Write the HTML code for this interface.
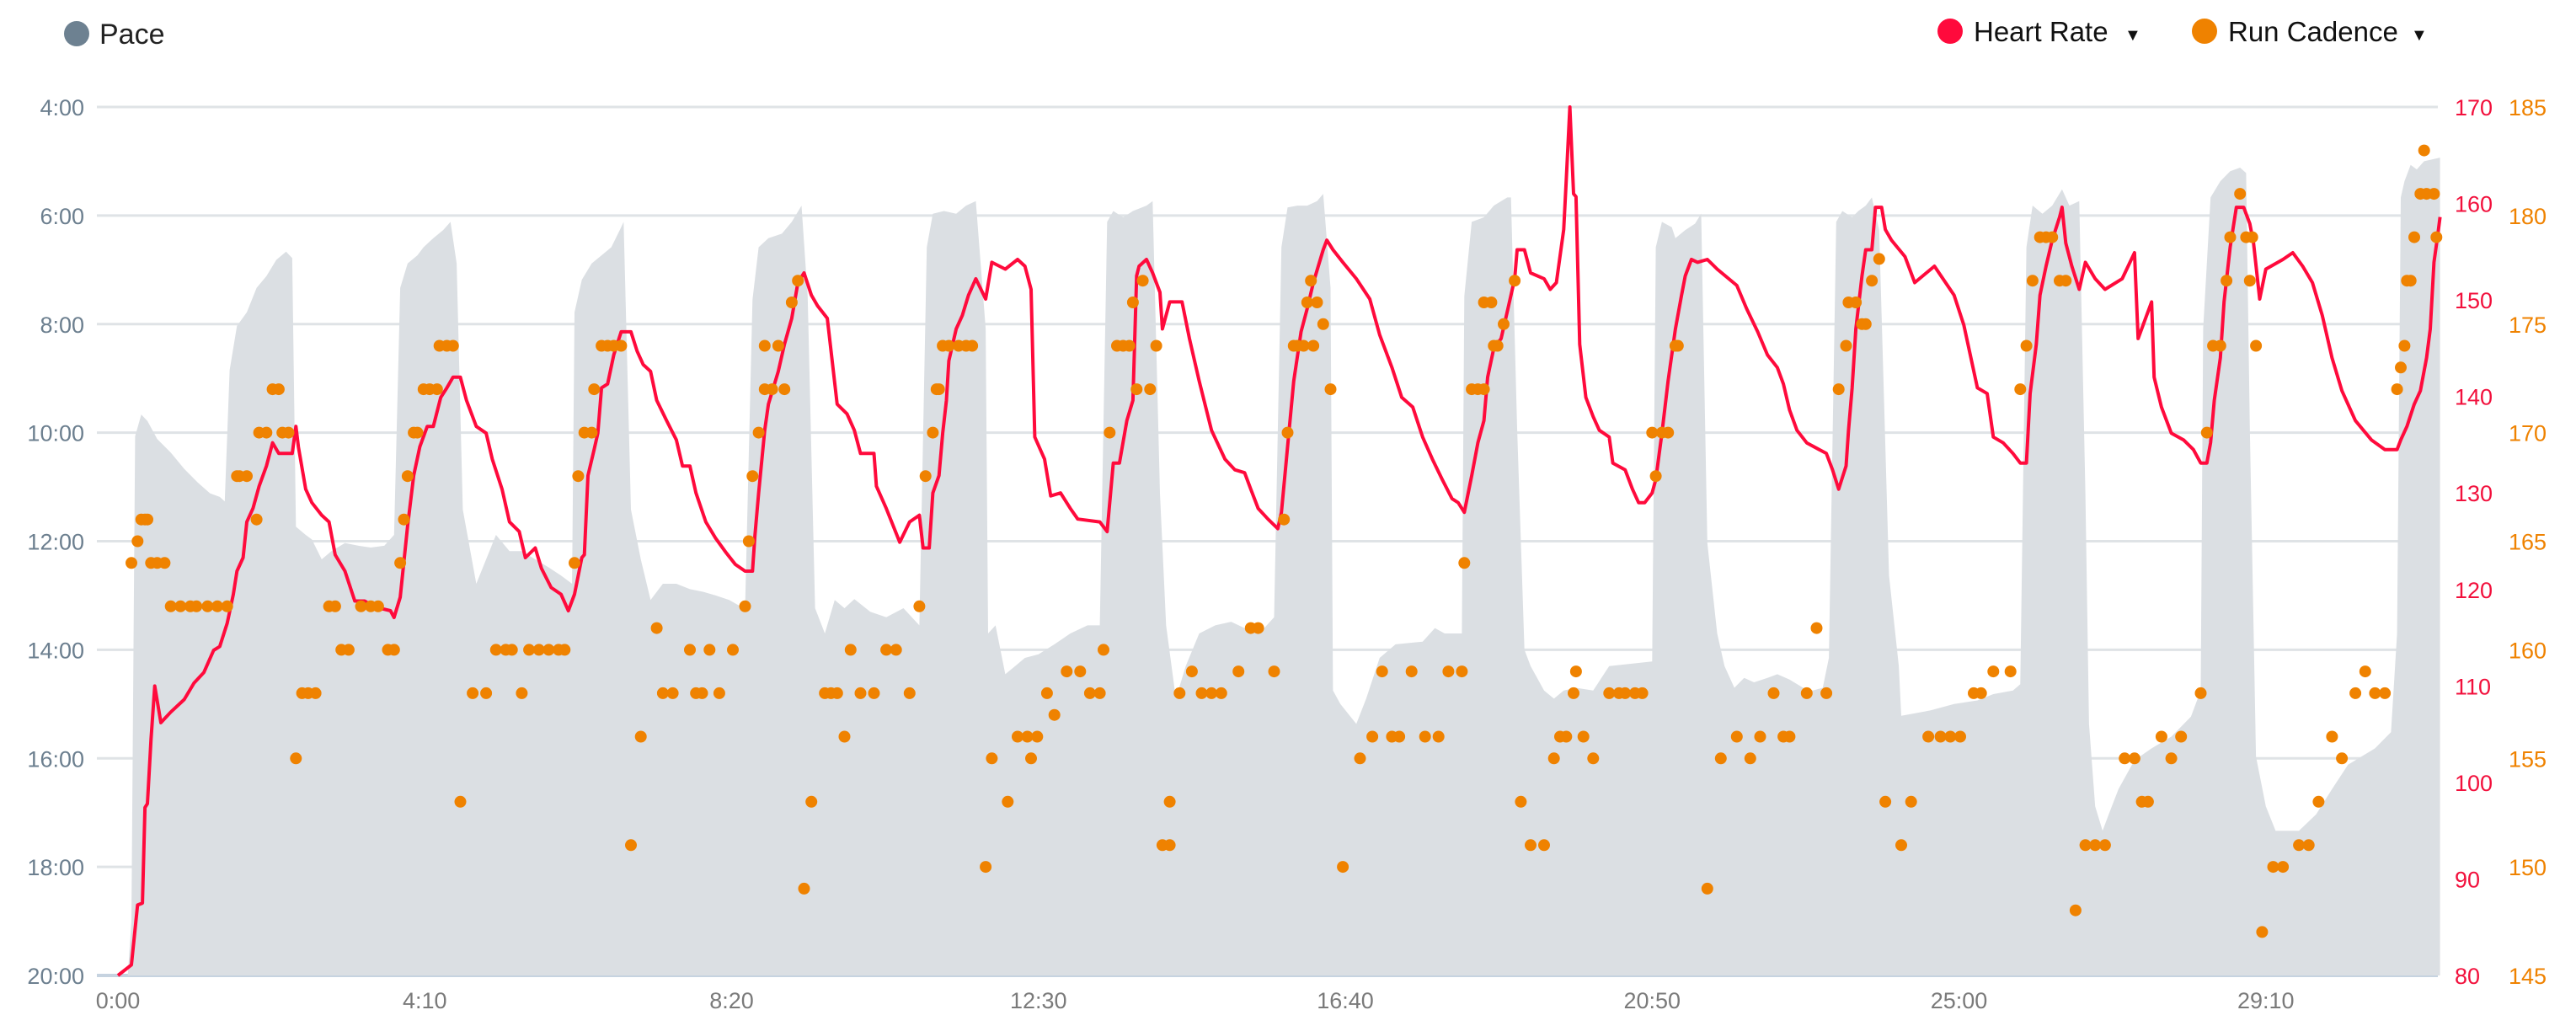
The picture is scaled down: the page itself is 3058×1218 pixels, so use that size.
<!DOCTYPE html>
<html><head><meta charset="utf-8"><style>
html,body{margin:0;padding:0;background:#fff;width:3058px;height:1218px;overflow:hidden}
svg{display:block;font-family:"Liberation Sans",sans-serif}
</style></head><body>
<svg id="chart" width="3058" height="1218" viewBox="0 0 3058 1218" xmlns="http://www.w3.org/2000/svg">
<g id="legend">
 <g><circle cx="91" cy="40" r="15" fill="#6d8191"/><text x="118" y="52" font-size="34" fill="#222">Pace</text></g>
 <g><circle cx="2315" cy="37" r="15" fill="#ff0a3c"/><text x="2343" y="49" font-size="33" fill="#111">Heart Rate</text><text x="2522" y="48" font-size="20" fill="#111">▼</text></g>
 <g><circle cx="2617" cy="37" r="15" fill="#ef8200"/><text x="2645" y="49" font-size="33" fill="#111">Run Cadence</text><text x="2862" y="48" font-size="20" fill="#111">▼</text></g>
</g>
<g id="grid"></g>
<g id="area"></g>
<g id="hr"></g>
<g id="cad"></g>
<g id="axes"></g>
</svg>
<script>
const xTickTimes=[0,250,500,750,1000,1250,1500,1750];
const xTickLabels=["0:00","4:10","8:20","12:30","16:40","20:50","25:00","29:10"];
const paceTicks=[240,360,480,600,720,840,960,1080,1200];
const paceTickLabels=["4:00","6:00","8:00","10:00","12:00","14:00","16:00","18:00","20:00"];
const hrTicks=[170,160,150,140,130,120,110,100,90,80];
const cadTicks=[185,180,175,170,165,160,155,150,145];
const paceTime=[8,11,14,19,24,32,43,54,65,75,83,87,91,97,105,113,121,129,137,142,145,153,158,166,174,185,196,206,217,225,230,236,244,249,257,265,271,276,281,292,300,308,319,329,340,351,361,370,372,378,386,394,402,410,412,418,426,434,444,455,466,477,487,498,506,511,517,522,530,541,549,557,562,568,576,584,592,600,613,626,640,653,659,664,673,683,691,699,707,709,715,723,731,739,750,763,776,790,800,806,811,819,827,838,843,849,854,862,870,881,894,907,921,934,942,948,953,961,969,977,982,988,990,996,1009,1017,1028,1041,1063,1073,1081,1095,1097,1103,1113,1121,1132,1135,1140,1146,1151,1162,1170,1178,1188,1202,1215,1250,1253,1258,1266,1269,1277,1285,1290,1295,1303,1309,1317,1325,1333,1344,1352,1362,1373,1381,1389,1394,1400,1405,1413,1418,1424,1429,1435,1443,1451,1453,1477,1496,1515,1528,1544,1550,1555,1560,1568,1576,1584,1590,1598,1603,1606,1611,1617,1622,1630,1643,1657,1673,1689,1697,1699,1705,1713,1721,1729,1734,1737,1742,1750,1758,1777,1791,1804,1817,1839,1852,1857,1860,1863,1868,1873,1879,1892];
const paceSec=[1200,1140,604,580,587,607,622,640,655,667,671,676,531,482,467,440,427,409,400,407,704,713,718,740,731,722,725,727,725,713,440,413,404,395,385,376,367,413,685,767,740,713,731,731,740,749,758,767,467,431,413,404,395,373,367,685,740,785,767,767,773,776,780,785,791,794,453,395,385,380,367,349,449,794,822,785,794,784,798,804,794,813,395,358,355,358,349,344,485,822,813,867,858,849,845,834,822,813,813,367,355,362,355,349,344,667,813,894,858,822,813,809,818,816,804,395,351,349,349,344,336,440,885,900,922,894,849,834,831,816,822,822,449,367,362,349,340,340,595,840,858,885,894,885,882,885,858,853,395,367,373,385,376,369,358,722,822,858,882,871,876,871,867,873,882,885,882,849,367,355,362,355,349,340,376,758,858,913,907,900,896,889,885,878,395,349,358,349,331,349,344,667,922,1013,1040,1022,994,962,949,936,914,885,485,340,322,311,307,313,595,958,1013,1040,1040,1022,994,967,949,931,822,340,322,304,309,300,296];
const hrTime=[0,11,16,20,22,24,27,30,35,43,54,62,70,78,83,89,94,97,102,105,110,115,121,126,131,142,145,147,153,158,166,172,177,185,193,201,209,222,225,230,236,241,246,252,257,263,268,273,279,284,292,300,305,313,319,327,332,340,345,353,361,367,372,378,380,383,388,391,394,399,404,410,418,423,428,434,439,447,455,460,466,471,479,487,495,503,511,517,519,522,527,530,538,543,549,554,559,565,570,578,586,594,600,605,616,618,626,637,645,653,656,661,664,669,672,675,677,683,688,693,699,707,712,723,733,739,744,747,755,760,768,776,782,800,806,811,816,822,827,830,832,838,843,849,851,857,867,873,881,891,902,910,918,923,929,937,945,948,953,958,964,969,974,982,985,990,998,1009,1020,1028,1038,1046,1055,1063,1071,1079,1087,1092,1097,1103,1108,1113,1116,1121,1127,1132,1138,1140,1146,1151,1162,1167,1172,1178,1180,1183,1186,1188,1191,1196,1202,1207,1215,1218,1228,1234,1239,1244,1250,1253,1258,1263,1269,1274,1277,1282,1287,1295,1303,1319,1327,1336,1344,1352,1357,1362,1368,1376,1392,1397,1402,1408,1410,1413,1416,1421,1424,1429,1432,1437,1440,1445,1456,1464,1480,1496,1504,1515,1523,1528,1536,1544,1550,1555,1558,1563,1566,1571,1576,1582,1584,1587,1592,1598,1603,1611,1619,1633,1643,1646,1657,1659,1665,1673,1683,1691,1697,1702,1705,1708,1713,1716,1721,1726,1732,1737,1740,1745,1750,1764,1772,1780,1788,1796,1804,1812,1823,1836,1847,1857,1860,1865,1871,1876,1881,1884,1887,1890,1892];
const hrBpm=[80,81.1,87.3,87.5,97.4,97.8,104.5,110,106.2,107.3,108.6,110.3,111.4,113.7,114.1,116.5,119.5,121.9,123.3,127,128.4,130.7,132.8,135.2,134.1,134.1,136.9,134.8,130.4,129,127.7,127,123.6,121.9,118.8,118.8,118.2,117.8,117.1,119.2,126.6,131.8,134.8,136.9,136.9,139.9,140.9,142,142,139.6,136.9,136.2,133.5,130.4,127,126,123.3,124.3,122.2,120.2,119.5,117.8,119.5,123.3,123.6,131.8,134.5,136.2,140.9,141.3,144.3,146.7,146.7,144.7,143.3,142.6,139.6,137.5,135.5,132.8,132.8,130,127,125.3,123.9,122.6,121.9,121.9,125.6,130,136.5,139.2,142.6,145.4,148.1,151.8,152.8,150.5,149.4,148.1,139.2,138.2,136.5,134.1,134.1,130.7,128.4,124.9,127,127.7,124.3,124.3,130,131.8,136.2,139.6,143.7,147,148.4,150.5,152.2,150.1,153.9,153.2,154.2,153.5,151.1,135.8,133.5,129.7,130,128.4,127.3,127,126,133.1,133.1,137.5,139.6,152.5,153.5,154.2,152.8,150.8,147,149.8,149.8,146,141.6,136.5,133.5,132.4,132.1,130.4,128.4,127.3,126.3,128,134.8,141.6,146.7,149.1,151.8,155.2,156.2,155.2,153.9,152.2,150.1,146.4,143,139.9,138.9,135.8,133.5,131.4,129.4,129,128,131.8,135.2,137.5,142,145,146,148.8,152.2,155.2,155.2,152.8,152.2,151.1,151.8,157.3,162.4,170,161,160.7,145.4,139.9,137.9,136.5,135.8,133.1,132.4,130.4,129,129,130,131.4,136.2,141.6,147,150.5,152.5,154.2,153.9,154.2,153.2,151.5,149.1,146.7,144.3,143,141.3,138.6,136.5,135.2,134.1,132.4,130.4,132.8,136.5,140.9,147,152.5,155.2,155.2,159.6,159.6,157.3,156.2,154.5,151.8,153.5,150.5,147.4,140.9,140.3,135.8,135.2,134.1,133.1,133.1,140.3,145.4,150.5,153.5,156.2,158.6,159.6,155.9,153.5,151.1,153.9,152.2,151.1,152.2,154.9,146,149.8,142,138.9,136.2,135.5,134.5,133.1,133.1,135.2,139.6,144,149.8,155.5,159.6,159.6,157.9,155.9,150.1,153.2,154.2,154.9,153.5,151.8,148.4,144,140.6,137.5,135.5,134.5,134.5,135.5,136.9,139.2,140.6,144,147,153.9,156.6,158.6];
const cadTime=[11,16,19,22,24,27,32,38,43,51,59,64,73,81,89,97,99,105,113,115,121,126,131,134,139,145,150,155,161,172,177,182,188,198,206,212,220,225,230,233,236,241,244,249,254,260,262,268,273,279,289,300,308,316,321,329,335,343,351,359,364,372,375,380,386,388,394,399,404,410,418,426,439,444,452,466,471,476,482,490,501,511,514,517,522,527,527,533,538,543,549,554,559,565,576,581,586,592,597,605,616,626,634,645,653,658,664,667,669,672,677,685,691,696,707,712,725,733,741,744,749,757,763,773,784,792,800,803,808,814,819,824,827,830,835,841,846,851,857,857,865,875,883,891,899,913,923,929,942,950,953,958,961,966,969,972,974,977,982,988,998,1012,1022,1030,1038,1044,1054,1065,1076,1084,1095,1097,1103,1108,1113,1113,1119,1121,1124,1129,1138,1143,1151,1162,1170,1175,1180,1186,1188,1194,1202,1215,1223,1228,1236,1242,1250,1253,1258,1263,1269,1271,1295,1306,1319,1330,1338,1349,1357,1362,1376,1384,1392,1402,1408,1410,1416,1421,1424,1429,1435,1440,1453,1461,1475,1485,1493,1501,1512,1518,1528,1542,1550,1555,1560,1566,1571,1576,1582,1587,1595,1603,1611,1619,1635,1643,1649,1654,1665,1673,1681,1697,1702,1707,1713,1718,1721,1729,1734,1737,1739,1742,1747,1756,1764,1777,1785,1793,1804,1812,1823,1831,1839,1847,1857,1860,1863,1865,1868,1871,1876,1879,1881,1887,1889];
const cadSpm=[164,165,166,166,166,164,164,164,162,162,162,162,162,162,162,168,168,168,166,170,170,172,172,170,170,155,158,158,158,162,162,160,160,162,162,162,160,160,164,166,168,170,170,172,172,172,174,174,174,153,158,158,160,160,160,158,160,160,160,160,160,164,168,170,170,172,174,174,174,174,151,156,161,158,158,160,158,158,160,158,160,162,165,168,170,172,174,172,174,172,176,177,149,153,158,158,158,156,160,158,158,160,160,158,162,168,170,172,172,174,174,174,174,174,150,155,153,156,156,155,156,158,157,159,159,158,158,160,170,174,174,174,176,172,177,172,174,151,153,151,158,159,158,158,158,159,161,161,159,166,170,174,174,174,176,177,174,176,175,172,150,155,156,159,156,156,159,156,156,159,159,164,172,172,172,176,176,174,174,175,177,153,151,151,155,156,156,158,159,156,155,158,158,158,158,158,170,168,170,170,174,174,149,155,156,155,156,158,156,156,158,161,158,172,174,176,176,175,175,177,178,153,151,153,156,156,156,156,158,158,159,159,172,174,177,179,179,179,177,177,148,151,151,151,155,155,153,153,156,155,156,158,170,174,174,177,179,181,179,177,179,174,147,150,150,151,151,153,156,155,158,159,158,158,172,173,174,177,177,179,181,183,181,181,179];

const NS="http://www.w3.org/2000/svg";
const X0=140, XS=1.457, XEND=2894, GX0=115;
function xOf(t){return X0+t*XS;}
function yPace(p){return 127+(p-240)/120*128.875;}
function yHr(b){return 127+(170-b)*11.456;}
function yCad(c){return 127+(185-c)*25.775;}
function mk(tag,attrs,parent){const e=document.createElementNS(NS,tag);for(const k in attrs)e.setAttribute(k,attrs[k]);parent.appendChild(e);return e;}
const grid=document.getElementById('grid'),axes=document.getElementById('axes');
paceTicks.forEach((p,i)=>{
  const y=yPace(p);
  const ln=mk('line',{x1:GX0,x2:XEND,y1:y,y2:y,stroke:i===paceTicks.length-1?'#c6d3e0':'#dfe3e6','stroke-width':i===paceTicks.length-1?4:3},grid);
  
  
  const tx=mk('text',{x:100,y:y+10,'text-anchor':'end','font-size':27,fill:'#6c7f8f'},axes);
  tx.textContent=paceTickLabels[i];
  
  
});
xTickTimes.forEach((t,i)=>{
  const tx=mk('text',{x:xOf(t),y:1197,'text-anchor':'middle','font-size':27,fill:'#7a7a7a'},axes);
  tx.textContent=xTickLabels[i];
  
  
});
hrTicks.forEach(b=>{
  const tx=mk('text',{x:2914,y:yHr(b)+10,'font-size':27,fill:'#f2103c'},axes);
  tx.textContent=b;
  
  
});
cadTicks.forEach(c=>{
  const tx=mk('text',{x:2978,y:yCad(c)+10,'font-size':27,fill:'#ef8200'},axes);
  tx.textContent=c;
  
  
});
// pace area
let d='M'+xOf(paceTime[0])+','+yPace(1200);
paceTime.forEach((t,i)=>{d+=' L'+xOf(t).toFixed(1)+','+yPace(paceSec[i]).toFixed(1);});
d+=' L'+xOf(paceTime[paceTime.length-1]).toFixed(1)+','+yPace(1200)+' Z';
const area=mk('path',{d:d,fill:'#dbdfe3'},document.getElementById('area'));


// HR line
let hd='';
hrTime.forEach((t,i)=>{hd+=(i?' L':'M')+xOf(t).toFixed(1)+','+yHr(hrBpm[i]).toFixed(1);});
const hl=mk('path',{d:hd,fill:'none',stroke:'#ff0a3c','stroke-width':4,'stroke-linejoin':'round'},document.getElementById('hr'));


// cadence dots
const cg=document.getElementById('cad');
cadTime.forEach((t,i)=>{
  const c=mk('circle',{cx:xOf(t).toFixed(1),cy:yCad(cadSpm[i]).toFixed(1),r:7,fill:'#ef8200'},cg);
  
  
});
</script>
</body></html>
